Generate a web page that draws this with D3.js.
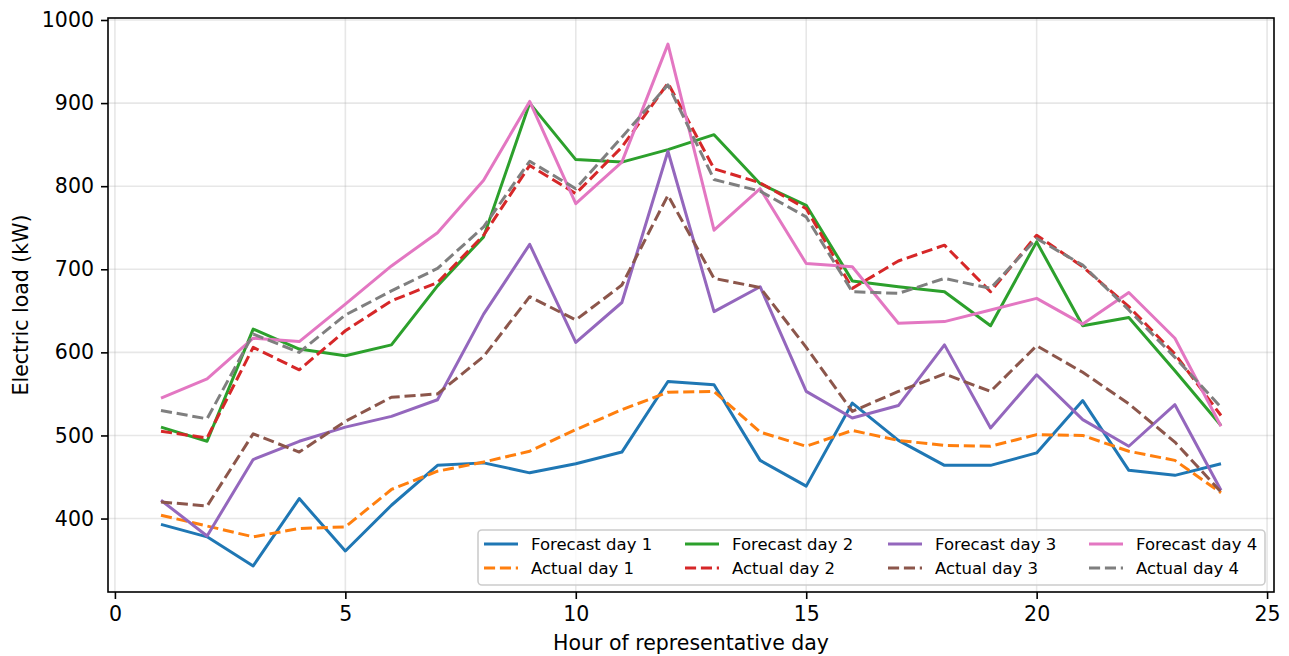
<!DOCTYPE html>
<html>
<head>
<meta charset="utf-8">
<title>Electric load forecast</title>
<script src="https://cdn.jsdelivr.net/npm/d3@7"></script>
<style>
  body { margin: 0; background: #fff; }
  svg text { font-family: "DejaVu Sans", sans-serif; fill: #000; }
</style>
</head>
<body>
<div id="chart"></div>
<script>
  // hours 1..24
  const hours = d3.range(1, 25);

  const forecastDay1 = [393, 378, 343, 424, 361, 416, 464, 467, 455, 466, 480, 565, 561, 470, 439, 539, 494, 464, 464, 479, 542, 458, 452, 466];
  const actualDay1   = [404, 391, 378, 388, 390, 435, 457, 468, 481, 507, 531, 552, 553, 504, 487, 506, 494, 488, 487, 501, 500, 481, 470, 431];
  const forecastDay2 = [510, 493, 628, 604, 596, 609, 680, 739, 900, 832, 829, 844, 862, 803, 777, 686, 679, 673, 632, 733, 632, 642, 578, 512];
  const actualDay2   = [505, 497, 606, 579, 626, 662, 684, 741, 825, 791, 847, 924, 821, 804, 773, 677, 710, 729, 673, 741, 703, 655, 598, 524];
  const forecastDay3 = [422, 379, 471, 493, 510, 523, 543, 646, 730, 612, 660, 842, 649, 679, 553, 521, 536, 609, 509, 573, 519, 487, 537, 434];
  const actualDay3   = [420, 415, 502, 480, 517, 546, 550, 595, 667, 639, 681, 789, 689, 678, 606, 529, 553, 574, 553, 608, 576, 538, 492, 432];
  const forecastDay4 = [545, 568, 617, 613, 658, 704, 744, 807, 902, 779, 829, 971, 747, 797, 707, 703, 635, 637, 651, 665, 634, 672, 617, 511];
  const actualDay4   = [530, 520, 622, 600, 645, 674, 701, 751, 830, 797, 859, 922, 808, 794, 763, 673, 671, 689, 677, 737, 705, 651, 594, 534];

  const seriesNames = ["Forecast day 1", "Actual day 1", "Forecast day 2", "Actual day 2",
                       "Forecast day 3", "Actual day 3", "Forecast day 4", "Actual day 4"];
  const seriesValues = [forecastDay1, actualDay1, forecastDay2, actualDay2,
                        forecastDay3, actualDay3, forecastDay4, actualDay4];
  const seriesColors = ["#1f77b4", "#ff7f0e", "#2ca02c", "#d62728",
                        "#9467bd", "#8c564b", "#e377c2", "#7f7f7f"];
  const seriesDashed = [false, true, false, true, false, true, false, true];

  const xTicks = [0, 5, 10, 15, 20, 25];
  const yTicks = [400, 500, 600, 700, 800, 900, 1000];

  const width = 1289, height = 656;
  const margin = {left: 108, top: 18, right: 1289 - 1274, bottom: 656 - 592};

  // matplotlib-like 5% auto margins
  const allVals = seriesValues.flat();
  const yMin = d3.min(allVals), yMax = d3.max(allVals);
  const yPad = (yMax - yMin) * 0.05;
  const xPad = (24 - 1) * 0.05;

  const x = d3.scaleLinear().domain([1 - xPad, 24 + xPad]).range([margin.left, width - margin.right]);
  const y = d3.scaleLinear().domain([yMin - yPad, yMax + yPad]).range([height - margin.bottom, margin.top]);

  const svg = d3.select("#chart").append("svg")
      .attr("width", width)
      .attr("height", height);

  // grid
  svg.append("g")
    .selectAll("line")
    .data(xTicks)
    .join("line")
      .attr("x1", d => x(d)).attr("x2", d => x(d))
      .attr("y1", margin.top).attr("y2", height - margin.bottom)
      .attr("stroke", "#b0b0b0").attr("stroke-opacity", 0.3).attr("stroke-width", 1.6);

  svg.append("g")
    .selectAll("line")
    .data(yTicks)
    .join("line")
      .attr("x1", margin.left).attr("x2", width - margin.right)
      .attr("y1", d => y(d)).attr("y2", d => y(d))
      .attr("stroke", "#b0b0b0").attr("stroke-opacity", 0.3).attr("stroke-width", 1.6);

  // lines
  const line = d3.line()
      .x((d, i) => x(hours[i]))
      .y(d => y(d));

  svg.append("g")
    .selectAll("path")
    .data(seriesValues)
    .join("path")
      .attr("d", d => line(d))
      .attr("fill", "none")
      .attr("stroke", (d, i) => seriesColors[i])
      .attr("stroke-width", 3)
      .attr("stroke-linejoin", "round")
      .attr("stroke-dasharray", (d, i) => seriesDashed[i] ? "11.1,4.8" : null);

  // axes
  const xAxis = svg.append("g")
      .attr("transform", `translate(0,${height - margin.bottom})`)
      .call(d3.axisBottom(x).tickValues(xTicks).tickSize(7).tickPadding(7));
  const yAxis = svg.append("g")
      .attr("transform", `translate(${margin.left},0)`)
      .call(d3.axisLeft(y).tickValues(yTicks).tickFormat(d3.format("d")).tickSize(7).tickPadding(7));

  [xAxis, yAxis].forEach(g => {
    g.select(".domain").remove();
    g.selectAll(".tick line").attr("stroke", "#000").attr("stroke-width", 1.6);
    g.selectAll(".tick text").attr("font-size", "20.5px").attr("fill", "#000");
  });

  // frame
  svg.append("rect")
      .attr("x", margin.left).attr("y", margin.top)
      .attr("width", width - margin.right - margin.left)
      .attr("height", height - margin.bottom - margin.top)
      .attr("fill", "none").attr("stroke", "#000").attr("stroke-width", 1.6);

  // axis labels
  svg.append("text")
      .attr("x", (margin.left + width - margin.right) / 2)
      .attr("y", 650)
      .attr("text-anchor", "middle")
      .attr("font-size", "20.5px")
      .text("Hour of representative day");

  svg.append("text")
      .attr("transform", `translate(28,${(margin.top + height - margin.bottom) / 2}) rotate(-90)`)
      .attr("text-anchor", "middle")
      .attr("font-size", "20.5px")
      .text("Electric load (kW)");

  // legend
  const legend = svg.append("g");
  legend.append("rect")
      .attr("x", 478).attr("y", 530)
      .attr("width", 787).attr("height", 55)
      .attr("rx", 4)
      .attr("fill", "#fff").attr("fill-opacity", 0.8)
      .attr("stroke", "#cccccc").attr("stroke-width", 1.6);

  const colX = [484, 685, 888, 1089];
  const rowY = [544, 568];

  const items = legend.selectAll("g.item")
    .data(seriesNames)
    .join("g")
      .attr("class", "item")
      .attr("transform", (d, i) => `translate(${colX[Math.floor(i / 2)]},${rowY[i % 2]})`);

  items.append("line")
      .attr("x1", 0).attr("x2", 34)
      .attr("y1", 0).attr("y2", 0)
      .attr("stroke", (d, i) => seriesColors[i])
      .attr("stroke-width", 3)
      .attr("stroke-dasharray", (d, i) => seriesDashed[i] ? "11.1,4.8" : null);

  items.append("text")
      .attr("x", 47)
      .attr("y", 0)
      .attr("dy", "0.35em")
      .attr("font-size", "16.5px")
      .text(d => d);
</script>
</body>
</html>
